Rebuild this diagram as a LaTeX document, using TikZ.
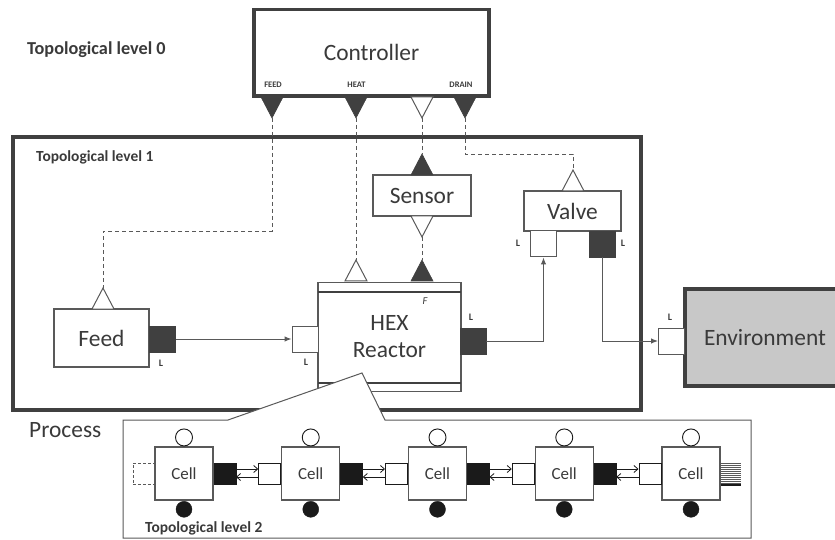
\documentclass[tikz,border=0pt]{standalone}
\usepackage{fontspec}
\setmainfont{Carlito}
\usetikzlibrary{arrows.meta}
\definecolor{dk}{HTML}{404040}
\definecolor{ln}{HTML}{595959}
\definecolor{tx}{HTML}{3A3A3A}
\definecolor{blk}{HTML}{1A1A1A}
\definecolor{envgray}{HTML}{C8C8C8}
\tikzset{
  big/.style={font=\fontsize{23.5}{27}\selectfont},
  small/.style={font=\fontsize{17}{18}\selectfont},
  box/.style={draw=ln, line width=1.2bp, fill=white, inner sep=0pt, text=tx, align=center, big},
  frame/.style={draw=dk, line width=4bp, inner sep=0pt},
  lbl/.style={text=tx, inner sep=0pt, font=\bfseries\fontsize{8.5}{9}\selectfont},
  portlbl/.style={text=tx, inner sep=0pt, font=\bfseries\fontsize{10}{10}\selectfont},
  title/.style={text=tx, inner sep=0pt, anchor=west, font=\bfseries\fontsize{15.5}{16}\selectfont},
  portfull/.style={draw=dk, fill=dk, line width=0.6bp, inner sep=0pt, minimum width=26bp, minimum height=26bp},
  portopen/.style={draw=ln, fill=white, line width=1bp, inner sep=0pt, minimum width=26bp, minimum height=26bp},
  trifull/.style={draw=dk, fill=dk, line width=0.6bp},
  triopen/.style={draw=ln, fill=white, line width=1bp},
  sig/.style={draw=ln, line width=0.9bp, dash pattern=on 4bp off 3bp},
  flow/.style={draw=ln, line width=1bp, -{Latex[length=7bp,width=5.5bp]}},
  cellbox/.style={draw=ln, line width=1.2bp, fill=white, inner sep=0pt, minimum width=58bp, minimum height=53bp, text=tx, small},
  cportfull/.style={draw=blk, fill=blk, inner sep=0pt, minimum width=22bp, minimum height=21bp},
  cportopen/.style={draw=blk, line width=0.9bp, fill=white, inner sep=0pt, minimum width=22bp, minimum height=21bp},
  cporthid/.style={draw=ln, line width=0.9bp, dash pattern=on 3bp off 2bp, inner sep=0pt, minimum width=21bp, minimum height=21bp},
  cin/.style={circle, draw=blk, line width=0.9bp, fill=white, inner sep=0pt, minimum size=17bp},
  cout/.style={circle, draw=blk, fill=blk, inner sep=0pt, minimum size=16bp},
  xch/.style={draw=blk, line width=0.8bp, -{Straight Barb[length=4bp,width=7bp]}},
  pics/tridown/.style={code={\path[pic actions] (-11,-21) -- (0,0) -- (11,-21) -- cycle;}},
  pics/triup/.style={code={\path[pic actions] (-11,21) -- (0,0) -- (11,21) -- cycle;}},
}
\begin{document}
\begin{tikzpicture}[x=1bp, y=-1bp]
\useasboundingbox (0,0) rectangle (835,540);

% ---- level 0: controller ----
\node[title, font=\bfseries\fontsize{18.3}{19}\selectfont] (t0) at (27,50) {Topological level 0};
\node[box, draw=dk, line width=3.5bp, minimum width=235bp, minimum height=86.5bp] (ctrl) at (371.5,52.75) {Controller};
\node[lbl] (lfeed) at (273,85) {FEED};
\node[lbl] (lheat) at (356.5,85) {HEAT};
\node[lbl] (ldrain) at (461,85) {DRAIN};
\coordinate (cfeed) at (272,118);
\coordinate (cheat) at (356,118);
\coordinate (csens) at (422,118);
\coordinate (cdrain) at (465,118);
\pic[trifull] at (cfeed) {tridown};
\pic[trifull] at (cheat) {tridown};
\pic[triopen] at (csens) {tridown};
\pic[trifull] at (cdrain) {tridown};

% ---- level 1: process frame ----
\node[frame, minimum width=628bp, minimum height=273bp] (lvl1) at (327,273.5) {};
\node[title] (t1) at (36,157) {Topological level 1};

% feed
\node[box, minimum width=95bp, minimum height=58bp] (feed) at (101.5,338) {Feed};
\node[portfull] (feedout) at (162.5,339) {};
\node[portlbl] (lfo) at (161,363) {L};
\coordinate (ffeed) at (103,288);
\pic[triopen] at (ffeed) {triup};

% reactor
\node[box, minimum width=143bp, minimum height=109bp] (hex) at (389.5,337) {HEX\\Reactor};
\draw[draw=dk, line width=2.5bp] (318,292) -- (461,292);
\draw[draw=dk, line width=2.5bp] (318,383) -- (461,383);
\node[text=tx, inner sep=0pt, font=\itshape\fontsize{10.5}{10}\selectfont] (hexf) at (425,301) {F};
\node[portopen] (hexin) at (305,339) {};
\node[portlbl] (lhi) at (306,362) {L};
\node[portfull] (hexout) at (473,341) {};
\node[portlbl] (lho) at (471,317) {L};
\coordinate (hheat) at (356,260);
\coordinate (hsens) at (422,260);
\pic[triopen] at (hheat) {triup};
\pic[trifull] at (hsens) {triup};

% sensor
\node[box, minimum width=98bp, minimum height=41bp] (sensor) at (422,195.5) {Sensor};
\coordinate (sin) at (422,154);
\coordinate (sout) at (422,237);
\pic[trifull] at (sin) {triup};
\pic[triopen] at (sout) {tridown};

% valve
\node[box, minimum width=97bp, minimum height=40bp] (valve) at (572.5,211) {Valve};
\coordinate (vctl) at (573,170);
\pic[triopen] at (vctl) {triup};
\node[portopen] (vin) at (543.5,244) {};
\node[portfull] (vout) at (602.5,244) {};
\node[portlbl] (lvi) at (518,243) {L};
\node[portlbl] (lvo) at (623,243) {L};

% environment
\node[box, draw=dk, line width=4bp, fill=envgray, minimum width=160bp, minimum height=97bp] (env) at (765,337.5) {Environment};
\node[portopen] (envin) at (671.5,341) {};
\node[portlbl] (lei) at (670,317) {L};

% material flows
\draw[flow] (feedout.east) -- (hexin.west);
\draw[flow] (hexout.east) -| (vin.south);
\draw[flow] (vout.south) |- (envin.west);

% control signals
\draw[sig] (cfeed) -- ++(0,113) -| (ffeed);
\draw[sig] (cheat) -- (hheat);
\draw[sig] (csens) -- (sin);
\draw[sig] (sout) -- (hsens);
\draw[sig] (cdrain) -- ++(0,36) -| (vctl);

% ---- level 2: zoom into the reactor ----
\draw[draw=ln, line width=1bp, fill=white] (123,420) -- (228,420) -- (362,373) -- (385,420)
  -- (751,420) -- (751,538) -- (123,538) -- cycle;
\node[text=tx, big, anchor=west, inner sep=0pt] (proc) at (29,430) {Process};
\node[title] (t2) at (145,528) {Topological level 2};

\foreach \i in {0,...,4}{
  \pgfmathsetmacro\cx{184+126.75*\i}
  \node[cellbox] (cell\i) at (\cx,473.5) {Cell};
  \node[cin, anchor=south] (cin\i) at (cell\i.north) {};
  \node[cout, anchor=north, yshift=-0.5bp] (cout\i) at (cell\i.south) {};
}
\foreach \i in {0,...,3}{
  \node[cportfull, anchor=west] (co\i) at (cell\i.east) {};
}
\foreach \i in {1,...,4}{
  \node[cportopen, anchor=east] (ci\i) at (cell\i.west) {};
}
\foreach \i/\j in {0/1,1/2,2/3,3/4}{
  \draw[xch] ([yshift=4.5bp]co\i.east) -- ([yshift=4.5bp]ci\j.west);
  \draw[xch] ([yshift=-3.5bp]ci\j.west) -- ([yshift=-3.5bp]co\i.east);
}
\node[cporthid, anchor=east] (ch0) at (cell0.west) {};
% outflow of the last cell
\foreach \k in {0,...,11}{
  \draw[draw=gray!70!black, line width=0.9bp] (721,463.5+2*\k) -- (741,463.5+2*\k);
}
\draw[draw=blk, line width=1.2bp] (721,485) -- (741,485);
\end{tikzpicture}
\end{document}
